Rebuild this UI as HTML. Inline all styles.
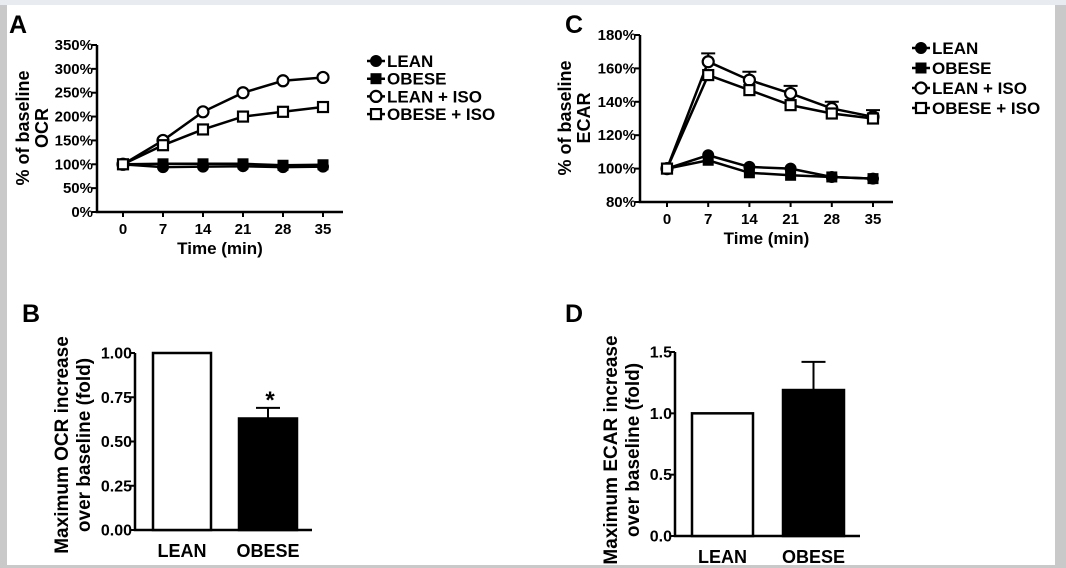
<!DOCTYPE html>
<html><head><meta charset="utf-8"><style>
html,body{margin:0;padding:0;background:#fff}
svg{display:block;font-family:"Liberation Sans",Arial,sans-serif;font-weight:bold}
</style></head><body>
<svg id="fig" width="1066" height="568" viewBox="0 0 1066 568">
<rect x="0" y="0" width="1066" height="568" fill="#fff"/>
<rect x="0" y="0" width="1066" height="5" fill="#e8ebef"/>
<rect x="0" y="5" width="7" height="563" fill="#c9c9c9"/>
<rect x="1055" y="5" width="11" height="563" fill="#c9c9c9"/>
<rect x="0" y="565" width="1066" height="3" fill="#c9c9c9"/>
<g id="g"></g>
</svg>
<script>
// Panel A data (OCR % of baseline)
const timeCats=[0,7,14,21,28,35];
const ocrLean=[100,94,95,96,94,95];
const ocrObese=[100,101,101,101,98,99];
const ocrLeanIso=[100,150,210,250,275,282];
const ocrObeseIso=[100,140,173,200,210,220];
const ocrTicks=[0,50,100,150,200,250,300,350];
// Panel C data (ECAR % of baseline)
const ecarLean=[100,108,101,100,95,94];
const ecarObese=[100,105,97.5,96,95,94];
const ecarLeanIso=[100,164,153,145,136,131];
const ecarLeanIsoErr=[0,5,5,4.5,4,4];
const ecarObeseIso=[100,156,147,138,133,130];
const ecarTicks=[80,100,120,140,160,180];
// Panel B data
const barCats=["LEAN","OBESE"];
const ocrFold=[1.0,0.63];
const ocrFoldErr=[0,0.06];
const ocrFoldTicks=["0.00","0.25","0.50","0.75","1.00"];
// Panel D data
const ecarFold=[1.0,1.19];
const ecarFoldErr=[0,0.23];
const ecarFoldTicks=["0.0","0.5","1.0","1.5"];

const NS="http://www.w3.org/2000/svg";
const G=document.getElementById('g');
function mk(tag,attrs,parent,txt){const e=document.createElementNS(NS,tag);for(const k in attrs)e.setAttribute(k,attrs[k]);if(txt!==undefined)e.textContent=txt;(parent||G).appendChild(e);return e;}
function txt(x,y,s,size,anchor,name,rot){const t=mk('text',{x:x,y:y,'font-size':size,'text-anchor':anchor||'start',fill:'#000'},G,s);


if(rot)t.setAttribute('transform','rotate(-90 '+x+' '+y+')');return t;}
function marker(type,x,y,name){let e;
if(type==='fc')e=mk('circle',{cx:x,cy:y,r:5,fill:'#000',stroke:'#000','stroke-width':2});
else if(type==='oc')e=mk('circle',{cx:x,cy:y,r:5.5,fill:'#fff',stroke:'#000','stroke-width':2.2});
else if(type==='fs')e=mk('rect',{x:x-5,y:y-5,width:10,height:10,fill:'#000',stroke:'#000','stroke-width':1});
else e=mk('rect',{x:x-5,y:y-5,width:10,height:10,fill:'#fff',stroke:'#000','stroke-width':2.2});

}

function linePanel(o){
 const sx=v=>o.x0+(v-timeCats[0])/(timeCats[timeCats.length-1]-timeCats[0])*(o.x1-o.x0);
 const sy=v=>o.yb+(v-o.ymin)/(o.ymax-o.ymin)*(o.yt-o.yb);
 const ax=mk('path',{d:`M${o.ax} ${o.yt}V${o.yb}H${o.axEnd}`,fill:'none',stroke:'#000','stroke-width':2.5});
 
 
 o.ticks.forEach(t=>{const y=sy(t);mk('line',{x1:o.ax-5,x2:o.ax,y1:y,y2:y,stroke:'#000','stroke-width':2});
  txt(o.ax-4,y+5,t+'%',15,'end',o.id+'-y-tick-label');});
 timeCats.forEach(t=>{const x=sx(t);mk('line',{x1:x,x2:x,y1:o.yb,y2:o.yb+5,stroke:'#000','stroke-width':2});
  txt(x,o.yb+22,String(t),15,'middle',o.id+'-x-tick-label');});
 txt((o.ax+o.axEnd)/2,o.yb+42,'Time (min)',17,'middle',o.id+'-x-axis-title');
 o.series.forEach(s=>{
  const d=s.v.map((v,i)=>(i?'L':'M')+sx(timeCats[i])+' '+sy(v)).join('');
  const p=mk('path',{d:d,fill:'none',stroke:'#000','stroke-width':2.5});
  
  
  if(s.err)s.v.forEach((v,i)=>{if(!s.err[i])return;const x=sx(timeCats[i]),y=sy(v+s.err[i]);
   mk('path',{d:`M${x} ${sy(v)}V${y}M${x-7} ${y}H${x+7}`,stroke:'#000','stroke-width':2,fill:'none'});});
 });
 o.series.forEach(s=>s.v.forEach((v,i)=>marker(s.m,sx(timeCats[i]),sy(v),o.id+'-point-'+s.n)));
 o.series.forEach((s,i)=>{const y=o.legY+i*o.legDy;
  mk('line',{x1:o.legX,x2:o.legX+18,y1:y,y2:y,stroke:'#000','stroke-width':2.5});
  marker(s.m,o.legX+9,y,o.id+'-legend-marker');
  txt(o.legX+20,y+6,s.label,17,'start',o.id+'-legend-entry');});
}

linePanel({id:'panel-a',ax:97,axEnd:343,x0:123,x1:323,yt:45,yb:212,ymin:0,ymax:350,ticks:ocrTicks,legX:367,legY:61,legDy:17.7,
 series:[{n:'lean',m:'fc',v:ocrLean,label:'LEAN'},{n:'obese',m:'fs',v:ocrObese,label:'OBESE'},
 {n:'lean-iso',m:'oc',v:ocrLeanIso,label:'LEAN + ISO'},{n:'obese-iso',m:'os',v:ocrObeseIso,label:'OBESE + ISO'}]});
linePanel({id:'panel-c',ax:640,axEnd:893,x0:667,x1:873,yt:35,yb:202,ymin:80,ymax:180,ticks:ecarTicks,legX:912,legY:48,legDy:20,
 series:[{n:'lean',m:'fc',v:ecarLean,label:'LEAN'},{n:'obese',m:'fs',v:ecarObese,label:'OBESE'},
 {n:'lean-iso',m:'oc',v:ecarLeanIso,err:ecarLeanIsoErr,label:'LEAN + ISO'},{n:'obese-iso',m:'os',v:ecarObeseIso,label:'OBESE + ISO'}]});

txt(9,33,'A',25,'start','panel-a-label');
txt(565,33,'C',25,'start','panel-c-label');
txt(29,128,'% of baseline',18,'middle','panel-a-y-axis-title',true);
txt(48,128,'OCR',18,'middle','panel-a-y-axis-title-2',true);
txt(571,118,'% of baseline',18,'middle','panel-c-y-axis-title',true);
txt(590,118,'ECAR',18,'middle','panel-c-y-axis-title-2',true);

function barPanel(o){
 const sy=v=>o.yb+(v/o.ymax)*(o.yt-o.yb);
 const ax=mk('path',{d:`M${o.ax} ${o.yt}V${o.yb}H${o.axEnd}`,fill:'none',stroke:'#000','stroke-width':2.5});
 
 
 o.ticks.forEach((t,i)=>{const y=sy(parseFloat(t));mk('line',{x1:o.ax-5,x2:o.ax,y1:y,y2:y,stroke:'#000','stroke-width':2});
  txt(o.ax-3,y+5.5,t,16,'end',o.id+'-y-tick-label');});
 barCats.forEach((c,i)=>{const x=o.bx[i],y=sy(o.v[i]);
  if(o.err[i]){const ye=sy(o.v[i]+o.err[i]),cx=x+o.bw/2;mk('path',{d:`M${cx} ${y}V${ye}M${cx-12} ${ye}H${cx+12}`,stroke:'#000','stroke-width':2,fill:'none'});}
  const r=mk('rect',{x:x,y:y,width:o.bw,height:o.yb-y,fill:i?'#000':'#fff',stroke:'#000','stroke-width':2.5});
  
  
  txt(x+o.bw/2,o.yb+27,c,18,'middle',o.id+'-x-tick-label');});
}
barPanel({id:'panel-b',ax:135,axEnd:312,yt:353,yb:530,ymax:1,ticks:ocrFoldTicks,v:ocrFold,err:ocrFoldErr,bx:[153,239],bw:58});
barPanel({id:'panel-d',ax:675,axEnd:860,yt:352,yb:536,ymax:1.5,ticks:ecarFoldTicks,v:ecarFold,err:ecarFoldErr,bx:[692,783],bw:61});
txt(270,408,'*',24,'middle','panel-b-significance-asterisk');
txt(22,322,'B',25,'start','panel-b-label');
txt(565,322,'D',25,'start','panel-d-label');
txt(68,445,'Maximum OCR increase',19,'middle','panel-b-y-axis-title',true);
txt(90,445,'over baseline (fold)',19,'middle','panel-b-y-axis-title-2',true);
txt(617,450,'Maximum ECAR increase',19,'middle','panel-d-y-axis-title',true);
txt(639,450,'over baseline (fold)',19,'middle','panel-d-y-axis-title-2',true);
</script>
</body></html>
